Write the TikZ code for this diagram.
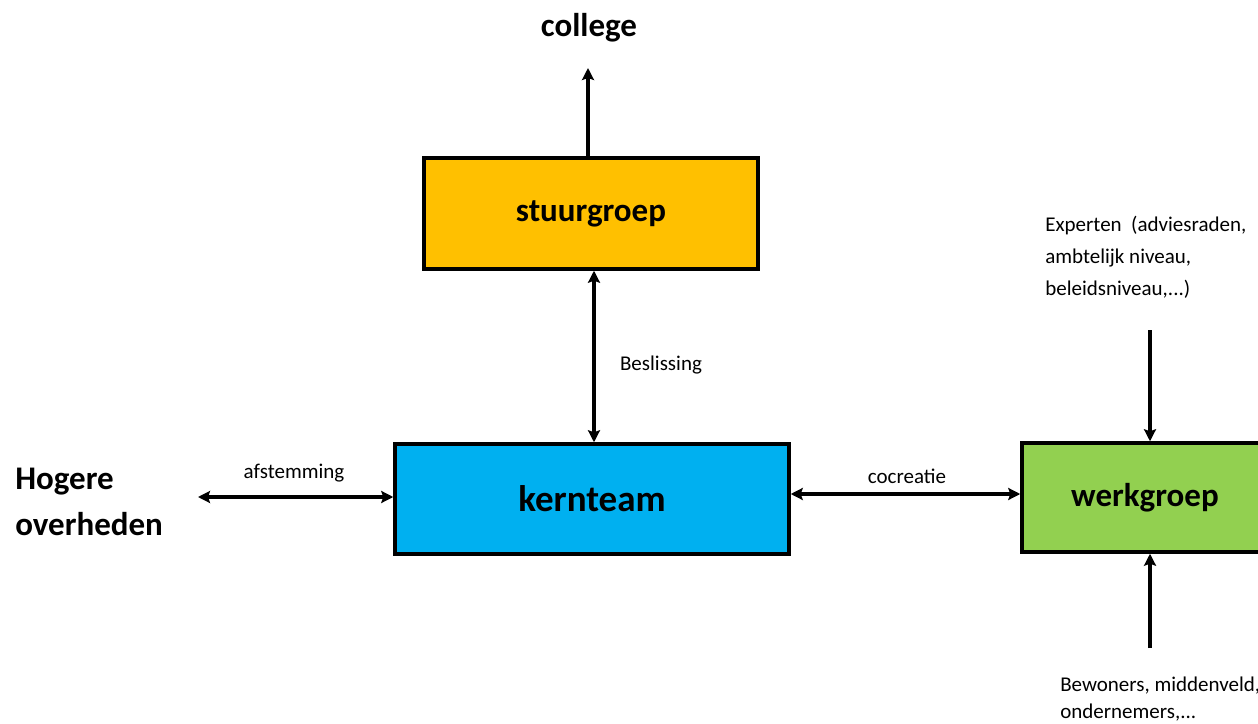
\documentclass[tikz,border=0pt]{standalone}
\usepackage{fontspec}
\setmainfont{Carlito}
\usetikzlibrary{arrows.meta}
\definecolor{cyellow}{HTML}{FFC000}
\definecolor{cblue}{HTML}{00B0F0}
\definecolor{cgreen}{HTML}{92D050}
\tikzset{
  box/.style={draw=black, line width=2.6pt, inner sep=0pt, font=\bfseries\fontsize{24.75}{28}\selectfont},
  tip/.style={},
  conn/.style={line width=2.6pt, -{Stealth[length=9pt,width=9pt,inset=1.5pt]}},
  dconn/.style={line width=2.6pt, {Stealth[length=9pt,width=9pt,inset=1.5pt]}-{Stealth[length=9pt,width=9pt,inset=1.5pt]}},
  lbl/.style={font=\fontsize{15.75}{18}\selectfont, inner sep=0pt},
  big/.style={font=\bfseries\fontsize{24.75}{34.5}\selectfont, inner sep=0pt},
}
\begin{document}
\begin{tikzpicture}[x=0.75pt,y=-0.75pt]
\useasboundingbox (0,0) rectangle (1258,724);
\clip (0,0) rectangle (1258,724);
\fill[white] (0,0) rectangle (1258,724);
% boxes
\node[box, fill=cyellow, minimum width=334*0.75pt, minimum height=111*0.75pt] (stuur) at (591,213.5) {stuurgroep};
\node[box, fill=cblue, minimum width=394*0.75pt, minimum height=110*0.75pt, font=\bfseries\fontsize{27.75}{30}\selectfont] (kern) at (592,499) {kernteam};
\node[box, fill=cgreen, minimum width=246*0.75pt, minimum height=109*0.75pt] (werk) at (1145,497.5) {werkgroep};
% labels
\node[big] (college) at (589,28) {college};
\node[big, align=left, anchor=north west] (hogere) at (15,468) {Hogere\\overheden};
\node[lbl] (besl) at (661,365) {Beslissing};
\node[lbl] (afst) at (294,473) {afstemming};
\node[lbl] (cocr) at (907,476) {cocreatie};
\node[lbl, align=left, anchor=north west, font=\fontsize{15.75}{24}\selectfont] (exp) at (1045,216) {Experten\ \ (adviesraden,\\ambtelijk niveau,\\beleidsniveau,...)};
\node[lbl, align=left, anchor=north west, font=\fontsize{15.75}{20.25}\selectfont] (bew) at (1060,677) {Bewoners, middenveld,\\ondernemers,...};
% connector endpoints
\coordinate (colend) at (588,68);
\coordinate (hogend) at (198,497);
\coordinate (cocy) at (0,494);
\coordinate (expstart) at (1150,330);
\coordinate (bewstart) at (1150,648);
% connectors
\draw[conn] (stuur.north -| colend) -- (colend);
\draw[dconn] ([xshift=3*0.75pt]stuur.south) -- ([xshift=2*0.75pt]kern.north);
\draw[dconn] (hogend) -- (kern.west |- hogend);
\draw[dconn] (kern.east |- cocy) -- (werk.west |- cocy);
\draw[conn] (expstart) -- (werk.north -| expstart);
\draw[conn] (bewstart) -- (werk.south -| bewstart);
\end{tikzpicture}
\end{document}
